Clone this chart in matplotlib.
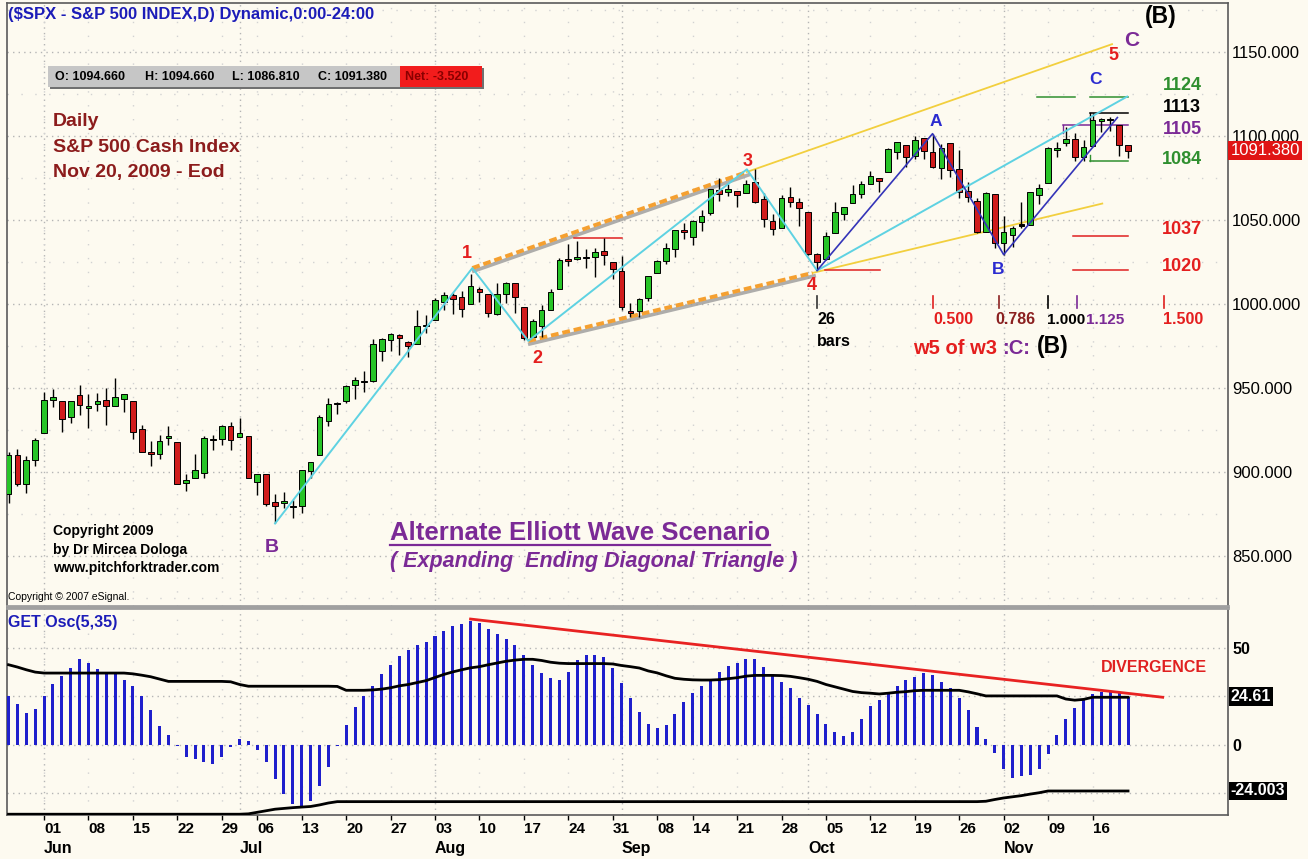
import numpy as np
import pandas as pd
import matplotlib
matplotlib.use("Agg")
import matplotlib.pyplot as plt
from matplotlib.patches import Rectangle
from matplotlib.lines import Line2D
from matplotlib.transforms import offset_copy, blended_transform_factory

plt.rcParams['font.family'] = ['Liberation Sans', 'DejaVu Sans']

# ---------------- data (S&P 500 daily, 26 May - 20 Nov 2009) ----------------
holidays = ['2009-07-03', '2009-09-07']
dates = pd.bdate_range('2009-05-26', '2009-11-20')
dates = dates[~dates.isin(pd.to_datetime(holidays))]

opens = [887.00, 909.95, 892.96, 907.02, 923.26, 942.87, 942.51, 932.49, 945.67, 938.12,
         940.35, 942.73, 939.04, 943.44, 942.45, 925.60, 911.89, 910.86, 919.96, 918.13,
         893.46, 896.31, 899.45, 918.84, 919.86, 927.15, 920.82, 921.24, 894.27, 898.60,
         881.90, 881.28, 880.03, 879.57, 900.77, 910.15, 930.17, 940.56, 942.07, 951.97,
         953.40, 954.07, 972.16, 978.63, 981.48, 977.66, 976.01, 986.80, 990.22, 1001.41,
         1005.41, 1004.06, 999.83, 1008.89, 1005.77, 994.00, 1005.86, 1012.23, 998.18, 980.62,
         986.88, 996.41, 1009.06, 1026.59, 1026.63, 1027.35, 1027.81, 1031.62, 1025.21, 1019.52,
         996.07, 996.12, 1003.84, 1018.67, 1025.36, 1032.99, 1043.92, 1040.15, 1049.03, 1053.99,
         1067.87, 1066.60, 1067.14, 1066.35, 1072.69, 1062.56, 1049.48, 1045.38, 1063.69, 1061.02,
         1054.91, 1029.71, 1026.87, 1042.02, 1053.65, 1060.03, 1065.28, 1071.63, 1074.96, 1078.68,
         1090.36, 1094.67, 1088.22, 1098.64, 1090.36, 1080.96, 1095.62, 1080.36, 1067.54, 1061.51,
         1043.00, 1065.41, 1036.18, 1040.92, 1047.14, 1047.30, 1064.95, 1072.31, 1091.86, 1096.04,
         1098.31, 1087.59, 1094.13, 1109.22, 1109.44, 1106.44, 1094.66]
highs = [911.76, 913.84, 909.45, 920.02, 947.77, 949.38, 942.51, 942.47, 951.69, 946.33,
         946.92, 949.77, 956.23, 946.30, 942.45, 928.00, 918.44, 921.93, 927.09, 918.13,
         898.69, 910.85, 921.42, 922.00, 927.99, 930.01, 931.92, 921.24, 898.72, 898.60,
         886.80, 887.86, 883.57, 901.05, 905.84, 933.95, 943.96, 941.89, 951.62, 956.53,
         959.83, 979.42, 979.79, 982.49, 982.35, 977.76, 996.68, 993.18, 1003.61, 1007.12,
         1006.64, 1008.00, 1018.00, 1010.12, 1005.77, 1012.78, 1013.14, 1012.60, 998.18, 991.20,
         999.61, 1008.92, 1027.59, 1035.82, 1037.75, 1032.47, 1033.33, 1039.47, 1025.21, 1028.45,
         1000.34, 1003.43, 1016.48, 1026.07, 1036.34, 1044.14, 1048.18, 1049.74, 1056.04, 1068.76,
         1074.77, 1071.52, 1067.28, 1073.81, 1080.15, 1066.29, 1053.47, 1065.13, 1069.62, 1063.40,
         1054.91, 1030.60, 1042.58, 1060.55, 1058.02, 1070.67, 1073.08, 1079.46, 1075.30, 1093.17,
         1096.56, 1094.67, 1100.17, 1098.64, 1101.36, 1095.21, 1095.83, 1091.75, 1072.48, 1063.26,
         1066.83, 1065.41, 1052.18, 1046.36, 1061.00, 1066.65, 1071.48, 1093.19, 1096.42, 1105.37,
         1101.97, 1097.63, 1113.69, 1110.88, 1111.10, 1106.44, 1094.66]
lows = [881.46, 891.87, 887.60, 903.56, 923.26, 938.46, 923.85, 929.32, 934.13, 926.44,
        936.15, 927.97, 939.04, 935.66, 919.65, 911.60, 903.78, 907.94, 915.80, 893.04,
        888.86, 896.31, 896.27, 913.03, 916.18, 912.86, 920.82, 896.42, 886.36, 879.93,
        869.32, 878.45, 872.81, 875.32, 896.50, 910.15, 927.45, 934.65, 940.99, 943.22,
        947.75, 953.27, 965.95, 972.29, 969.35, 968.65, 976.01, 982.85, 990.22, 996.68,
        994.31, 992.49, 999.83, 1000.99, 992.40, 993.36, 1000.82, 994.60, 978.51, 980.62,
        980.62, 996.39, 1009.06, 1022.48, 1026.21, 1021.57, 1016.20, 1023.13, 1014.62, 996.28,
        991.97, 992.25, 1001.65, 1018.67, 1023.97, 1028.04, 1038.40, 1035.00, 1043.42, 1052.87,
        1061.20, 1064.27, 1057.46, 1066.35, 1060.39, 1045.85, 1041.17, 1045.38, 1057.83, 1046.47,
        1029.45, 1019.95, 1025.92, 1042.02, 1050.10, 1060.03, 1063.00, 1071.63, 1066.71, 1078.68,
        1086.41, 1081.53, 1086.48, 1086.16, 1080.77, 1074.31, 1075.49, 1063.00, 1060.62, 1042.19,
        1043.00, 1033.38, 1029.38, 1033.94, 1045.15, 1047.30, 1059.32, 1072.31, 1087.40, 1093.81,
        1084.90, 1085.33, 1094.13, 1102.19, 1102.70, 1088.40, 1086.81]
closes = [910.33, 893.06, 906.83, 919.14, 942.87, 944.74, 931.76, 942.46, 940.09, 939.14,
          942.43, 939.15, 944.89, 946.21, 923.72, 911.97, 910.71, 918.37, 921.23, 893.04,
          895.10, 900.94, 920.26, 918.90, 927.23, 919.32, 923.33, 896.42, 898.72, 881.03,
          879.56, 882.68, 879.13, 901.05, 905.84, 932.68, 940.74, 940.38, 951.13, 954.58,
          954.07, 976.29, 979.26, 982.18, 979.62, 975.15, 986.75, 987.48, 1002.63, 1005.65,
          1002.72, 997.08, 1010.48, 1007.10, 994.35, 1005.81, 1012.73, 1004.09, 979.73, 989.67,
          996.46, 1007.37, 1026.13, 1025.57, 1028.00, 1028.12, 1030.98, 1028.93, 1020.62, 998.04,
          994.75, 1003.24, 1016.40, 1025.39, 1033.37, 1044.14, 1042.73, 1049.34, 1052.63, 1068.76,
          1065.49, 1068.30, 1064.66, 1071.66, 1060.87, 1050.78, 1044.38, 1062.98, 1060.61, 1057.08,
          1029.85, 1025.21, 1040.46, 1054.72, 1057.58, 1065.48, 1071.49, 1076.19, 1073.19, 1092.02,
          1096.56, 1087.68, 1097.91, 1091.06, 1081.40, 1092.91, 1079.60, 1066.95, 1063.41, 1042.63,
          1066.11, 1036.19, 1042.88, 1045.41, 1046.50, 1066.63, 1069.30, 1093.08, 1093.01, 1098.51,
          1087.24, 1093.48, 1109.30, 1110.32, 1109.80, 1094.90, 1091.38]

# GET oscillator (5,35) histogram and its two band lines
osc = [25.1, 21.1, 16.3, 18.4, 25.1, 31.4, 35.6, 39.7, 44.0, 42.1,
       39.2, 37.6, 37.6, 33.5, 30.4, 25.1, 17.9, 9.8, 4.8, -0.7,
       -6.7, -7.7, -8.9, -10.1, -6.5, -1.2, 2.6, 1.9, -2.6, -8.9,
       -17.9, -25.6, -30.9, -31.6, -29.2, -21.5, -11.5, -0.7, 10.0, 19.2,
       25.1, 30.4, 36.3, 41.2, 45.7, 48.6, 51.2, 52.9, 55.8, 58.4,
       61.2, 62.2, 63.6, 62.7, 59.5, 56.9, 54.6, 51.2, 46.4, 41.2,
       36.9, 34.2, 33.5, 37.6, 43.5, 46.4, 46.4, 45.0, 39.5, 32.0,
       24.1, 17.0, 10.4, 8.4, 10.0, 15.8, 22.0, 26.8, 30.4, 33.0,
       37.6, 40.5, 42.1, 44.0, 44.0, 39.9, 35.2, 32.1, 29.2, 24.1,
       20.4, 15.6, 10.5, 6.4, 4.3, 6.4, 13.2, 19.8, 22.9, 26.1,
       30.4, 33.3, 35.1, 36.9, 35.7, 32.1, 29.4, 24.1, 17.9, 9.1,
       2.6, -4.3, -12.4, -17.5, -16.3, -15.5, -12.9, -5.0, 4.8, 13.2,
       19.1, 22.9, 26.3, 27.3, 27.3, 26.8, 24.61]
osc_upper = [41.2, 40.0, 38.6, 37.4, 36.9, 36.9, 36.9, 36.9, 36.9, 36.9,
             36.9, 36.9, 36.9, 36.9, 36.5, 35.8, 35.0, 33.8, 32.6, 32.6,
             32.6, 32.6, 32.6, 32.6, 32.6, 32.4, 31.0, 30.1, 30.1, 30.1,
             30.1, 30.1, 30.1, 30.1, 30.1, 30.1, 30.1, 30.0, 28.0, 28.0,
             28.0, 28.2, 28.6, 29.3, 30.3, 31.0, 32.0, 33.0, 34.6, 36.2,
             37.5, 38.6, 39.6, 40.2, 41.2, 42.1, 43.0, 43.6, 44.0, 44.0,
             43.4, 42.5, 42.0, 41.8, 41.8, 41.8, 41.8, 41.8, 41.6, 40.8,
             40.2, 39.5, 38.0, 37.0, 35.5, 34.2, 33.7, 33.4, 33.3, 33.3,
             33.5, 34.0, 34.5, 35.3, 35.7, 35.7, 35.7, 35.6, 35.2, 34.5,
             33.7, 32.6, 31.0, 29.8, 28.6, 27.4, 26.8, 26.5, 26.1, 26.5,
             27.0, 27.3, 27.8, 28.0, 28.0, 28.0, 28.0, 28.0, 27.2, 26.2,
             25.1, 25.1, 25.1, 25.1, 25.1, 25.1, 25.1, 25.1, 25.1, 23.5,
             22.9, 23.3, 24.4, 24.4, 24.4, 24.4, 24.4]
osc_lower = [-36.0, -36.0, -36.0, -36.0, -36.0, -36.0, -36.0, -36.0, -36.0, -36.0,
             -36.0, -36.0, -36.0, -36.0, -36.0, -36.0, -36.0, -36.0, -36.0, -36.0,
             -36.0, -36.0, -36.0, -36.0, -36.0, -36.0, -36.0, -35.8, -35.0, -34.2,
             -33.4, -33.0, -32.6, -32.3, -32.0, -31.2, -30.2, -29.5, -29.5, -29.5,
             -29.5, -29.5, -29.5, -29.5, -29.5, -29.5, -29.5, -29.5, -29.5, -29.5,
             -29.5, -29.5, -29.5, -29.5, -29.5, -29.5, -29.5, -29.5, -29.5, -29.5,
             -29.5, -29.5, -29.5, -29.5, -29.5, -29.5, -29.5, -29.5, -29.5, -29.5,
             -29.5, -29.5, -29.5, -29.5, -29.5, -29.5, -29.5, -29.5, -29.5, -29.5,
             -29.5, -29.5, -29.5, -29.5, -29.5, -29.5, -29.5, -29.5, -29.5, -29.5,
             -29.5, -29.5, -29.5, -29.5, -29.5, -29.5, -29.5, -29.5, -29.5, -29.5,
             -29.5, -29.5, -29.5, -29.5, -29.5, -29.5, -29.5, -29.5, -29.5, -29.5,
             -29.3, -28.4, -27.6, -27.0, -26.4, -25.6, -24.9, -24.0, -24.0, -24.0,
             -24.0, -24.0, -24.0, -24.0, -24.0, -24.0, -24.003]

# analyst drawings: (bar index, price)
wave_cyan = [(30, 869.3), (52.2, 1021.4), (58.5, 978.0), (83.1, 1080.2), (91, 1019.9), (125.9, 1123.5)]
wave_blue = [(91, 1019.9), (104, 1101.4), (112, 1029.4), (124.8, 1111.0)]
chan_upper = [(52.2, 1021.4), (83.1, 1078.6)]
chan_lower = [(58.5, 978.0), (90.5, 1018.5)]
ext_upper = [(83.1, 1078.6), (124.2, 1154.7)]
ext_lower = [(90.5, 1018.5), (123.1, 1059.8)]
levels = [(63.7, 69.0, 1039.5, '#e02020'), (91.9, 98.1, 1020.2, '#e02020'),
          (115.7, 120.0, 1123.5, '#2f8f2f'), (121.7, 126.0, 1123.5, '#2f8f2f'),
          (121.7, 126.0, 1113.7, 'black'), (118.7, 126.0, 1106.3, '#7b2a96'),
          (121.7, 126.0, 1085.1, '#2f8f2f'), (119.8, 126.0, 1040.5, '#e02020'),
          (119.8, 126.0, 1020.2, '#e02020')]
fib_start, fib_bars = 91, 26
fib_ratios = [0.0, 0.5, 0.786, 1.0, 1.125, 1.5]
fib_colors = ['#333333', '#e02020', '#8b2020', 'black', '#7b2a96', '#e02020']
diverg = [(52, 64.8), (129.9, 24.4)]

# ---------------- figure ----------------
W, H = 1308, 859
BG = '#fdfaf0'
fig = plt.figure(figsize=(W / 100, H / 100), dpi=100, facecolor=BG)


def label(px, py, s, **kw):
    kw.setdefault('va', 'center')
    kw.setdefault('ha', 'center')
    kw.setdefault('fontweight', 'bold')
    return fig.text(px / W, 1 - py / H, s, **kw)


ax = fig.add_axes([7 / W, 1 - 606 / H, 1221 / W, 603 / H], facecolor=BG)
ax2 = fig.add_axes([7 / W, 1 - 815 / H, 1221 / W, 207 / H], facecolor=BG)

idx = np.arange(len(dates))
o, h, l, c = map(np.array, (opens, highs, lows, closes))
xlim = (-0.17, 137.25)
ax.set_xlim(*xlim)
ax.set_ylim(820.2, 1179.2)
ax2.set_xlim(*xlim)
ax2.set_ylim(-36.4, 70.5)

# month / week positions
month_first = [i for i in range(1, len(dates)) if dates[i].month != dates[i - 1].month]
month_first = [0] + month_first
week_first = [i for i in range(1, len(dates)) if dates[i].weekday() < dates[i - 1].weekday()]

# grids
for a, major_y, minor_y in ((ax, range(850, 1151, 50), range(825, 1176, 50)),
                            (ax2, (50, 25, 0, -25), ())):
    for i in month_first[1:]:
        a.axvline(i, color='#b5b5b5', lw=1.0, ls=(0, (1, 3)), zorder=0)
    for i in week_first:
        a.axvline(i, color='#d2d2d2', lw=1.0, ls=(0, (1, 9)), zorder=0)
    for v in major_y:
        a.axhline(v, color='#b5b5b5', lw=1.0, ls=(0, (1, 3)), zorder=0)
    for v in minor_y:
        a.axhline(v, color='#d2d2d2', lw=1.0, ls=(0, (1, 9)), zorder=0)

# candles
ax.vlines(idx, l, h, color='black', lw=1.0, zorder=3)
body_lo = np.minimum(o, c)
body_h = np.maximum(np.abs(c - o), 0.9)
body_col = np.where(np.abs(c - o) < 1.0, 'black', np.where(c >= o, '#27c427', '#d01c1c'))
ax.bar(idx, body_h, bottom=body_lo, width=0.64, color=body_col, edgecolor='black',
       linewidth=0.7, zorder=4)

# channel lines with shadow
shadow = offset_copy(ax.transData, fig=fig, x=1.5, y=-3, units='dots')
for seg in (chan_upper, chan_lower):
    xs, ys = zip(*seg)
    ax.plot(xs, ys, color='#9a9a9a', lw=2.6, transform=shadow, zorder=2, alpha=0.8)
    ax.plot(xs, ys, color='#f5a030', lw=2.8, dashes=(2.0, 1.0), zorder=2.5)
for seg in (ext_upper, ext_lower):
    xs, ys = zip(*seg)
    ax.plot(xs, ys, color='#f2cf3e', lw=1.3, zorder=2)
xs, ys = zip(*wave_cyan)
ax.plot(xs, ys, color='#5ed2e2', lw=1.4, zorder=5)
xs, ys = zip(*wave_blue)
ax.plot(xs, ys, color='#3434b8', lw=1.2, zorder=5)
for x0, x1, p, col in levels:
    ax.plot([x0, x1], [p, p], color=col, lw=1.1, zorder=2)
ax.plot([121.7, 121.7], [1113.7, 1109.0], color='black', lw=1.0)
ax.plot([118.7, 118.7], [1106.3, 1102.0], color='#7b2a96', lw=1.0)
ax.plot([121.7, 121.7], [1085.1, 1089.0], color='#2f8f2f', lw=1.0)
for r, col in zip(fib_ratios, fib_colors):
    xf = fib_start + r * fib_bars
    ax.plot([xf, xf], [997.6, 1004.8], color=col, lw=1.2)

# axes styling
for a in (ax, ax2):
    for s in a.spines.values():
        s.set_color('#5a5a5a')
        s.set_linewidth(1.2)
ax.spines['bottom'].set_color('#a0a0a0')
ax.spines['bottom'].set_linewidth(2)
ax2.spines['top'].set_color('#a0a0a0')
ax2.spines['top'].set_linewidth(2)

ax.set_xticks([])
ax.yaxis.tick_right()
pticks = [850, 900, 950, 1000, 1050, 1100, 1150]
ax.set_yticks(pticks)
ax.set_yticklabels([f'{v:.3f}' for v in pticks])
ax.tick_params(axis='y', length=0, pad=3, labelsize=12)

ax2.yaxis.tick_right()
ax2.set_yticks([50, 0])
ax2.set_yticklabels(['50', '0'], fontweight='bold')
ax2.tick_params(axis='y', length=0, pad=3, labelsize=11.5)
ax2.set_xticks(week_first)
ax2.set_xticklabels([dates[i].strftime('%d') for i in week_first])
ax2.tick_params(axis='x', length=3.5, width=1, pad=1.5, labelsize=11)
for t in ax2.get_xticklabels():
    t.set_horizontalalignment('left')
    t.set_fontweight('bold')
bt = blended_transform_factory(ax2.transData, ax2.transAxes)
for i in month_first[1:]:
    ax2.text(i, -0.164, dates[i].strftime('%b'), transform=bt, ha='left', va='center',
             fontsize=11.5, fontweight='bold')

# oscillator
ax2.bar(idx, osc, width=0.34, color='#1f1fcc', zorder=3)
ax2.plot(idx, osc_upper, color='black', lw=2.0, zorder=4)
ax2.plot(idx, osc_lower, color='black', lw=2.0, zorder=4)
xs, ys = zip(*diverg)
ax2.plot(xs, ys, color='#e82222', lw=2.0, zorder=5)

# right-hand value boxes
bp = blended_transform_factory(ax.transAxes, ax.transData)
ax.text(1.002, c[-1], f'{c[-1]:.3f}', transform=bp, ha='left', va='center', color='white',
        fontsize=12, bbox=dict(boxstyle='square,pad=0.12', fc='#e01414', ec='none'), clip_on=False)
bo = blended_transform_factory(ax2.transAxes, ax2.transData)
ax2.text(1.002, osc[-1], f'{osc[-1]:.2f}', transform=bo, ha='left', va='center', color='white',
         fontsize=11.5, fontweight='bold', bbox=dict(boxstyle='square,pad=0.12', fc='black', ec='none'),
         clip_on=False)
ax2.text(1.002, osc_lower[-1], f'{osc_lower[-1]:.3f}', transform=bo, ha='left', va='center',
         color='white', fontsize=11.5, fontweight='bold',
         bbox=dict(boxstyle='square,pad=0.12', fc='black', ec='none'), clip_on=False)

# ---------------- text annotations ----------------
label(8, 14, r'(\$SPX - S&P 500 INDEX,D) Dynamic,0:00-24:00', ha='left', color='#1c1cb8', fontsize=12)

fig.add_artist(Rectangle((50 / W, 1 - 89 / H), 434 / W, 21 / H, transform=fig.transFigure,
                         fc='#707070', ec='none'))
fig.add_artist(Rectangle((48 / W, 1 - 87 / H), 352 / W, 21 / H, transform=fig.transFigure,
                         fc='#c6c6c6', ec='none'))
fig.add_artist(Rectangle((400 / W, 1 - 87 / H), 82 / W, 21 / H, transform=fig.transFigure,
                         fc='#f21c1c', ec='none'))
for px, s in ((55, f'O: {o[-1]:.3f}'), (145, f'H: {h[-1]:.3f}'),
              (232, f'L: {l[-1]:.3f}'), (318, f'C: {c[-1]:.3f}')):
    label(px, 77, s, ha='left', fontsize=9)
label(405, 77, f'Net: {c[-1] - c[-2]:.3f}', ha='left', fontsize=9, color='#8a0000')

dark_red = '#8c1c1c'
label(53, 121, 'Daily', ha='left', color=dark_red, fontsize=14)
label(53, 147, 'S&P 500 Cash Index', ha='left', color=dark_red, fontsize=14)
label(53, 173, 'Nov 20, 2009 - Eod', ha='left', color=dark_red, fontsize=14)

label(53, 531, 'Copyright 2009', ha='left', fontsize=10)
label(53, 550, 'by Dr Mircea Dologa', ha='left', fontsize=10)
label(53, 568, 'www.pitchforktrader.com', ha='left', fontsize=10)
label(8, 597, 'Copyright © 2007 eSignal.', ha='left', fontsize=7.5, fontweight='normal')

purple = '#7b2a96'
t_alt = label(390, 540, 'Alternate Elliott Wave Scenario', ha='left', va='baseline',
              color=purple, fontsize=18.5)
label(390, 562, '( Expanding  Ending Diagonal Triangle )', ha='left', color=purple,
      fontsize=15.5, style='italic')

wave_red = '#e41e1e'
blue = '#2b2bd0'
label(272, 548, 'B', color=purple, fontsize=14)
label(467, 254, '1', color=wave_red, fontsize=13)
label(537, 358, '2', color=wave_red, fontsize=13)
label(748, 161, '3', color=wave_red, fontsize=13)
label(812, 286, '4', color=wave_red, fontsize=13)
label(1113, 56, '5', color=wave_red, fontsize=13)
label(936, 121, 'A', color=blue, fontsize=12.5)
label(998, 270, 'B', color=blue, fontsize=12.5)
label(1096, 80, 'C', color=blue, fontsize=12.5)
label(1132, 40, 'C', color=purple, fontsize=15)
label(1161, 17, '(B)', fontsize=16.5)

green = '#2f8f2f'
for py, s, col in ((86, '1124', green), (107, '1113', 'black'), (129, '1105', purple),
                   (159, '1084', green), (230, '1037', wave_red), (267, '1020', wave_red)):
    label(1182, py, s, color=col, fontsize=13)

label(817, 320, '26', ha='left', fontsize=11.5)
label(817, 341, 'bars', ha='left', fontsize=11.5)
label(933, 320, '0.500', ha='left', color=wave_red, fontsize=11.5)
label(995, 320, '0.786', ha='left', color='#8b2020', fontsize=11.5)
t_one = label(1047, 320, '1.000', ha='left', color='black', fontsize=11)
label(1163, 320, '1.500', ha='left', color=wave_red, fontsize=11.5)
label(913, 348, 'w5 of w3', ha='left', color=wave_red, fontsize=14.5)
label(1002, 348, ':C:', ha='left', color=purple, fontsize=14.5)
label(1037, 347, '(B)', ha='left', color='black', fontsize=16.5)

label(8, 622, 'GET Osc(5,35)', ha='left', color='#1c1cb8', fontsize=11.5)
label(1154, 667, 'DIVERGENCE', color='#e02020', fontsize=11.5)

# place pieces that depend on measured text extents
fig.canvas.draw()
bb = t_alt.get_window_extent()
fig.add_artist(Line2D([bb.x0 / W, bb.x1 / W], [1 - 545 / H] * 2, transform=fig.transFigure,
                      color=purple, lw=1.6))
b1 = t_one.get_window_extent()
fig.text((b1.x1 + 1) / W, 1 - 320 / H, '1.125', ha='left', va='center', color=purple,
         fontsize=11, fontweight='bold')

fig.savefig('out.png', dpi=100, facecolor=BG)
